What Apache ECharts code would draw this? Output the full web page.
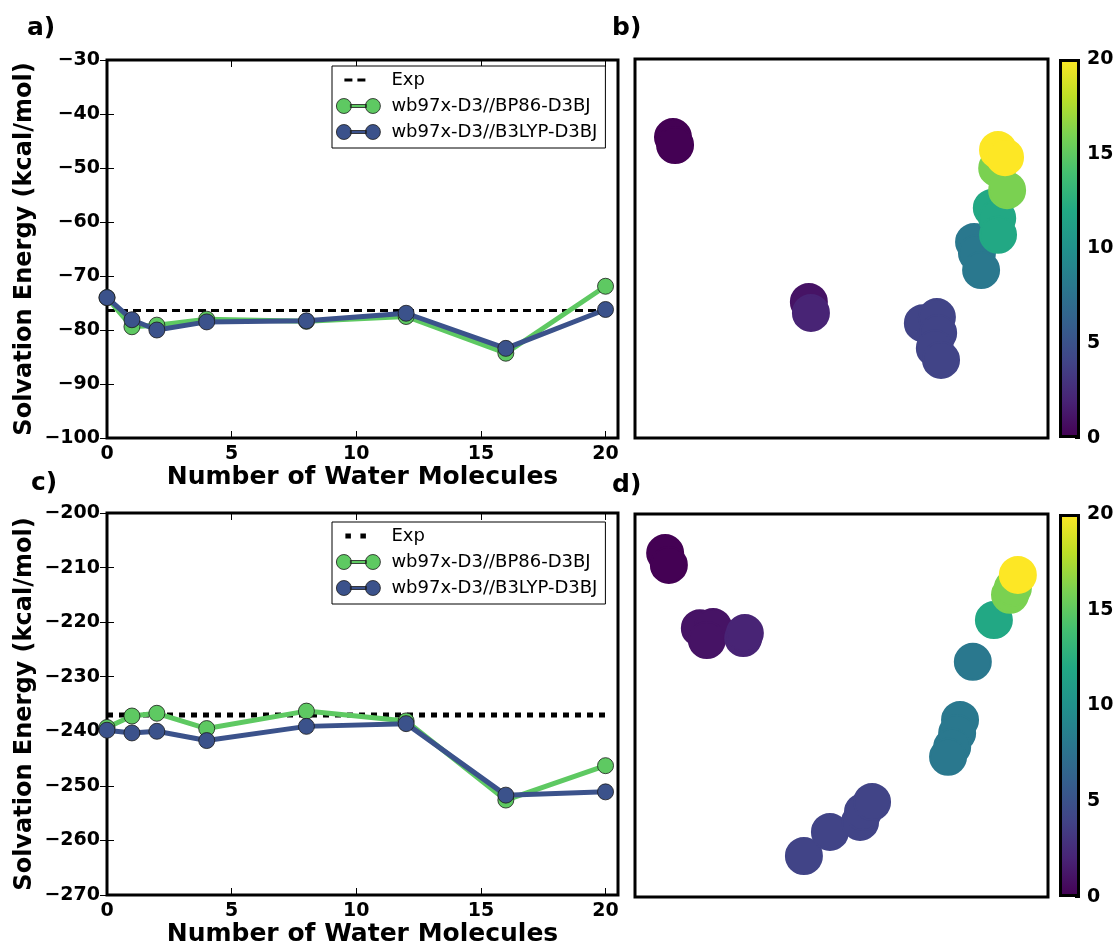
<!DOCTYPE html>
<html>
<head>
<meta charset="utf-8">
<title>Solvation energy vs number of water molecules</title>
<script src="https://cdn.jsdelivr.net/npm/echarts@6/dist/echarts.min.js"></script>
<style>
  html, body { margin: 0; padding: 0; background: #fff; }
  #chart { width: 1117px; height: 949px; }
</style>
</head>
<body>
<div id="chart"></div>
<script>
// --- data ---
const waters = [0, 1, 2, 4, 8, 12, 16, 20];

// panel a
const bp86A  = [-74.0, -79.4, -79.1, -78.0, -78.4, -77.5, -84.3, -71.9];
const b3lypA = [-74.0, -78.1, -80.0, -78.5, -78.3, -76.9, -83.4, -76.2];
const expA = -76.4;

// panel c
const bp86C  = [-239.3, -237.2, -236.7, -239.5, -236.3, -238.1, -252.6, -246.3];
const b3lypC = [-239.8, -240.3, -240.0, -241.7, -239.1, -238.6, -251.7, -251.1];
const expC = -237.0;

// panels b / d: [x, y, number of waters] (axes are unitless)
const mapB = [
  [9.2, 79.4, 0], [9.7, 77.3, 0],
  [42.1, 35.9, 1], [42.6, 33.0, 2],
  [69.7, 30.3, 4], [73.1, 31.9, 4], [73.4, 27.7, 4], [72.6, 23.7, 4], [74.1, 20.6, 4],
  [82.1, 51.7, 8], [82.8, 48.8, 8], [83.8, 44.3, 8],
  [86.4, 60.7, 12], [87.7, 58.0, 12], [87.9, 53.6, 12],
  [87.7, 71.2, 16], [90.1, 65.4, 16],
  [87.9, 76.0, 20], [89.6, 74.1, 20]
];
const mapD = [
  [7.3, 89.8, 0], [8.2, 86.7, 0],
  [15.7, 70.2, 1], [18.9, 70.5, 1], [17.4, 67.1, 1],
  [26.2, 67.6, 2], [26.6, 68.9, 2],
  [40.9, 10.7, 4], [47.2, 17.0, 4], [54.5, 19.6, 4], [55.2, 22.2, 4], [57.4, 24.8, 4],
  [81.8, 61.4, 8], [78.7, 46.2, 8], [78.0, 42.8, 8], [76.8, 39.2, 8], [75.8, 36.6, 8],
  [86.9, 72.3, 12],
  [90.8, 78.9, 16], [91.5, 80.7, 16],
  [92.7, 84.1, 20]
];

const colorRange = [0, 20];
const viridis = ['#440154', '#482475', '#414487', '#355f8d', '#2a788e', '#21918c',
                 '#22a884', '#44bf70', '#7ad151', '#bddf26', '#fde725'];

const FONT = 'DejaVu Sans';
const GREEN = '#5ec962', BLUE = '#3b528b';
const NAME_EXP = 'Exp', NAME_BP = 'wb97x-D3//BP86-D3BJ', NAME_B3 = 'wb97x-D3//B3LYP-D3BJ';

const minus = v => String(v).replace('-', '\u2212');
const pairs = (xs, ys) => xs.map((x, i) => [x, ys[i]]);
// colour of a value on the colour bar
const cmap = v => echarts.color.lerp((v - colorRange[0]) / (colorRange[1] - colorRange[0]), viridis);

const chart = echarts.init(document.getElementById('chart'));

const tick = { show: true, inside: true, length: 7, lineStyle: { color: '#000', width: 1 } };
const label = { fontFamily: FONT, fontWeight: 'bold', fontSize: 19, color: '#000', margin: 7, formatter: minus };
const titleFont = { fontFamily: FONT, fontWeight: 'bold', fontSize: 25, color: '#000' };
const frame = { show: true, borderColor: '#000', borderWidth: 3, backgroundColor: 'transparent' };

// grids: 0 a, 1 b, 2 b-colorbar, 3 c, 4 d, 5 d-colorbar
const grids = [
  Object.assign({ left: 107, top: 60, width: 511, height: 378 }, frame),
  Object.assign({ left: 635, top: 59, width: 413, height: 379 }, frame),
  { left: 1059, top: 59, width: 21, height: 379 },
  Object.assign({ left: 107, top: 513, width: 511, height: 382 }, frame),
  Object.assign({ left: 635, top: 514, width: 413, height: 383 }, frame),
  { left: 1059, top: 514, width: 21, height: 383 }
].map(g => Object.assign({ outerBoundsMode: 'none' }, g));

function lineXAxes(gi) {
  const base = { type: 'value', gridIndex: gi, min: 0, max: 20.5, interval: 5,
                 splitLine: { show: false }, axisLine: { show: false }, axisTick: tick };
  return [
    Object.assign({}, base, {
      position: 'bottom',
      axisLabel: Object.assign({}, label, { showMaxLabel: false }),
      name: 'Number of Water Molecules', nameLocation: 'middle', nameGap: 27,
      nameTextStyle: titleFont
    }),
    Object.assign({}, base, { position: 'top', axisLabel: { show: false } })
  ];
}
function lineYAxes(gi, min, max) {
  const base = { type: 'value', gridIndex: gi, min: min, max: max, interval: 10,
                 splitLine: { show: false }, axisLine: { show: false }, axisTick: tick };
  return [
    Object.assign({}, base, {
      position: 'left', axisLabel: label,
      name: 'Solvation Energy (kcal/mol)', nameLocation: 'middle', nameGap: 70,
      nameTextStyle: Object.assign({}, titleFont, { fontSize: 24 })
    }),
    Object.assign({}, base, { position: 'right', axisLabel: { show: false } })
  ];
}
const hiddenAxis = gi => ({ type: 'value', gridIndex: gi, min: 0, max: 100, show: false });
const barX = gi => ({ type: 'category', gridIndex: gi, data: [''], show: false });
const barY = gi => ({
  type: 'value', gridIndex: gi, position: 'right', min: colorRange[0], max: colorRange[1], interval: 5,
  splitLine: { show: false }, axisLine: { show: false },
  axisTick: { show: true, inside: true, length: 5, lineStyle: { color: '#000' } },
  axisLabel: label
});

const xAxes = [].concat(lineXAxes(0), [hiddenAxis(1), barX(2)], lineXAxes(3), [hiddenAxis(4), barX(5)]);
const yAxes = [].concat(lineYAxes(0, -100, -30), [hiddenAxis(1), barY(2)],
                        lineYAxes(3, -270, -200), [hiddenAxis(4), barY(5)]);
// indices: a 0/1, b 2, cbB 3, c 4/5, d 6, cbD 7

function lineSeries(xi, yi, bp, b3, exp, expStyle) {
  const marker = c => ({ color: c, borderColor: '#1a1a1a', borderWidth: 0.8 });
  return [
    { name: NAME_EXP, type: 'line', xAxisIndex: xi, yAxisIndex: yi,
      data: [[waters[0], exp], [waters[waters.length - 1], exp]],
      symbol: 'none', lineStyle: Object.assign({ color: '#000' }, expStyle),
      itemStyle: { color: '#000' }, z: 2 },
    { name: NAME_BP, type: 'line', xAxisIndex: xi, yAxisIndex: yi, data: pairs(waters, bp),
      symbol: 'circle', symbolSize: 16, lineStyle: { color: GREEN, width: 5 },
      itemStyle: marker(GREEN), z: 3 },
    { name: NAME_B3, type: 'line', xAxisIndex: xi, yAxisIndex: yi, data: pairs(waters, b3),
      symbol: 'circle', symbolSize: 16, lineStyle: { color: BLUE, width: 5 },
      itemStyle: marker(BLUE), z: 4 }
  ];
}

const gradient = {
  type: 'linear', x: 0, y: 0, x2: 0, y2: 1,
  colorStops: viridis.slice().reverse().map((c, i) => ({ offset: i / (viridis.length - 1), color: c }))
};
const colorbar = (xi, yi) => ({
  type: 'bar', xAxisIndex: xi, yAxisIndex: yi, data: [colorRange[1]], barWidth: '100%',
  itemStyle: { color: gradient, borderColor: '#000', borderWidth: 3 }, silent: true
});
const mapSeries = (xi, yi, data) => ({
  type: 'scatter', xAxisIndex: xi, yAxisIndex: yi, symbolSize: 36, silent: true,
  emphasis: { disabled: true },
  data: data.map(p => ({
    value: p,
    itemStyle: { color: cmap(p[2]), borderColor: cmap(p[2]), borderWidth: 2, opacity: 1 }
  }))
});

const series = [].concat(
  lineSeries(0, 0, bp86A, b3lypA, expA, { width: 3, type: [8, 5] }),   // 0-2
  [mapSeries(2, 2, mapB), colorbar(3, 3)],                               // 3-4
  lineSeries(4, 4, bp86C, b3lypC, expC, { width: 5, type: [6, 6] }),   // 5-7
  [mapSeries(6, 6, mapD), colorbar(7, 7)]                                // 8-9
);

// legend icons
const pairIcon = 'path://M0,7.5A7.5,7.5,0,1,1,15,7.5A7.5,7.5,0,1,1,0,7.5Z M14,6H30V9H14Z M29,7.5A7.5,7.5,0,1,1,44,7.5A7.5,7.5,0,1,1,29,7.5Z';
const anchors = 'M0,0h0.01v0.01h-0.01Z M43.99,14.99h0.01v0.01h-0.01Z ';
const expIconA = 'path://' + anchors + 'M8,6h8v3h-8Z M21,6h8v3h-8Z';
const expIconC = 'path://' + anchors + 'M9,5h5.5v5h-5.5Z M24,5h5.5v5h-5.5Z';

function legendAt(top, expIcon) {
  return {
    left: 332, top: top, orient: 'vertical', selectedMode: false,
    backgroundColor: '#fff', borderColor: '#000', borderWidth: 1, borderRadius: 0,
    padding: [5, 8, 7, 4], itemGap: 8, itemWidth: 44, itemHeight: 15,
    textStyle: { fontFamily: FONT, fontSize: 18, color: '#000', lineHeight: 18, padding: [0, 0, 0, 6] },
    data: [
      { name: NAME_EXP, icon: expIcon, itemStyle: { color: '#000', borderWidth: 0 } },
      { name: NAME_BP, icon: pairIcon, itemStyle: { color: GREEN, borderColor: '#1a1a1a', borderWidth: 0.8 } },
      { name: NAME_B3, icon: pairIcon, itemStyle: { color: BLUE, borderColor: '#1a1a1a', borderWidth: 0.8 } }
    ]
  };
}

const panelLetter = (text, x, y) => ({
  type: 'text', x: x, y: y,
  style: { text: text, font: 'bold 25px "DejaVu Sans"', fill: '#000', textVerticalAlign: 'middle' }
});

chart.setOption({
  animation: false,
  backgroundColor: '#fff',
  grid: grids,
  xAxis: xAxes,
  yAxis: yAxes,
  legend: [legendAt(66, expIconA), legendAt(522, expIconC)],
  graphic: [
    panelLetter('a)', 27, 28),
    panelLetter('b)', 612, 28),
    panelLetter('c)', 31, 483),
    panelLetter('d)', 612, 485)
  ],
  series: series
});
</script>
</body>
</html>
